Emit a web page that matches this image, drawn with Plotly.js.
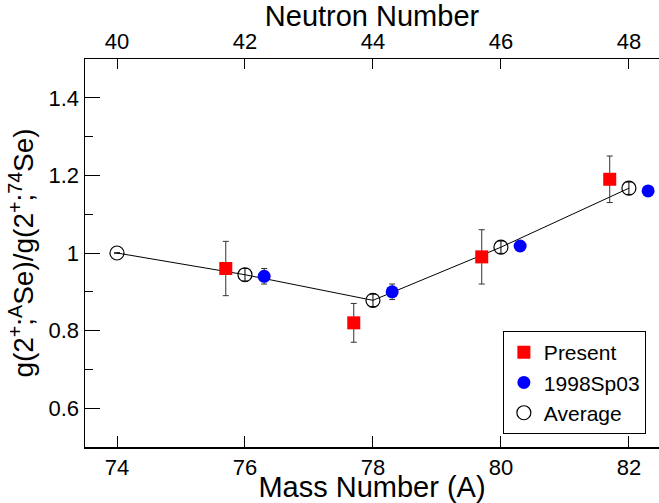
<!DOCTYPE html>
<html>
<head>
<meta charset="utf-8">
<script src="https://cdn.plot.ly/plotly-3.0.1.min.js"></script>
<style>html,body{margin:0;padding:0;background:#fff;}#chart{width:659px;height:503px;}</style>
</head>
<body>
<div id="chart"></div>
<script>
// Data
const presentA = [75.7, 77.7, 79.7, 81.7];
const presentG = [0.96, 0.82, 0.99, 1.19];
const presentErr = [0.07, 0.05, 0.07, 0.06];

const sp03A = [76.3, 78.3, 80.3, 82.3];
const sp03G = [0.94, 0.90, 1.018, 1.16];
const sp03Err = [0.02, 0.02, 0.01, 0.01];

const avgA = [74, 76, 78, 80, 82];
const avgG = [1.0, 0.944, 0.878, 1.015, 1.167];
const avgErr = [0, 0.016, 0.016, 0.016, 0.016];

const massTicks = [74, 76, 78, 80, 82];
const neutronTicks = ['40', '42', '44', '46', '48'];
const yTicks = [0.6, 0.8, 1.0, 1.2, 1.4];
const yTickText = ['0.6', '0.8', '1', '1.2', '1.4'];

const FONT = 'Liberation Sans, Arial, Helvetica, sans-serif';
const xRange = [73.5, 82.47];

const traces = [
  {
    x: avgA, y: avgG, mode: 'lines', type: 'scatter',
    line: {color: 'black', width: 1}, showlegend: false, hoverinfo: 'skip'
  },
  {
    name: 'Present', x: presentA, y: presentG, mode: 'markers', type: 'scatter',
    marker: {symbol: 'square', size: 13, color: '#ff0000'},
    error_y: {type: 'data', array: presentErr, visible: true, color: '#333', thickness: 1, width: 3}
  },
  {
    name: '1998Sp03', x: sp03A, y: sp03G, mode: 'markers', type: 'scatter',
    marker: {symbol: 'circle', size: 13, color: '#0000ff'},
    error_y: {type: 'data', array: sp03Err, visible: true, color: '#333', thickness: 1, width: 3}
  },
  {
    name: 'Average', x: avgA, y: avgG, mode: 'markers', type: 'scatter',
    marker: {symbol: 'circle-open', size: 14, color: 'black', line: {width: 1.2, color: 'black'}},
    error_y: {type: 'data', array: avgErr, visible: true, color: 'black', thickness: 1, width: 3}
  },
  {
    x: xRange, y: [null, null], xaxis: 'x2', mode: 'markers', type: 'scatter',
    showlegend: false, hoverinfo: 'skip'
  }
];

const layout = {
  width: 659, height: 503,
  margin: {l: 85, r: 0, t: 59, b: 56, pad: 0},
  paper_bgcolor: 'white', plot_bgcolor: 'white',
  font: {family: FONT, color: 'black'},
  showlegend: true,
  xaxis: {
    range: xRange, tickvals: massTicks, ticktext: massTicks.map(String),
    ticks: 'inside', ticklen: 11, tickwidth: 1, tickcolor: 'black',
    showline: true, linecolor: 'black', linewidth: 1.5, mirror: false,
    showgrid: false, zeroline: false,
    tickfont: {size: 22, family: FONT},
    title: {text: 'Mass Number (A)', font: {size: 29, family: FONT}, standoff: 2}
  },
  xaxis2: {
    overlaying: 'x', side: 'top', anchor: 'y',
    range: xRange, tickvals: massTicks, ticktext: neutronTicks,
    ticks: 'inside', ticklen: 10, tickwidth: 1, tickcolor: 'black',
    showline: true, linecolor: 'black', linewidth: 1.5,
    showgrid: false, zeroline: false,
    tickfont: {size: 22, family: FONT},
    title: {text: 'Neutron Number', font: {size: 29, family: FONT}, standoff: 2}
  },
  yaxis: {
    range: [0.5, 1.5], tickvals: yTicks, ticktext: yTickText,
    ticks: 'inside', ticklen: 15, tickwidth: 1, tickcolor: 'black',
    minor: {dtick: 0.1, tick0: 0.5, ticks: 'inside', ticklen: 8, tickwidth: 1, tickcolor: 'black'},
    showline: true, linecolor: 'black', linewidth: 1.5, mirror: false,
    showgrid: false, zeroline: false,
    tickfont: {size: 22, family: FONT},
    title: {text: 'g(2<sup>+</sup>;<sup>A</sup>Se)/g(2<sup>+</sup>;<sup>74</sup>Se)', font: {size: 28, family: FONT}, standoff: 6}
  },
  legend: {
    x: 0.728, y: 0.299, xanchor: 'left', yanchor: 'top',
    bgcolor: 'white', bordercolor: 'black', borderwidth: 1,
    font: {size: 21, family: FONT}
  }
};

Plotly.newPlot('chart', traces, layout, {displayModeBar: false, staticPlot: true});
</script>
</body>
</html>
